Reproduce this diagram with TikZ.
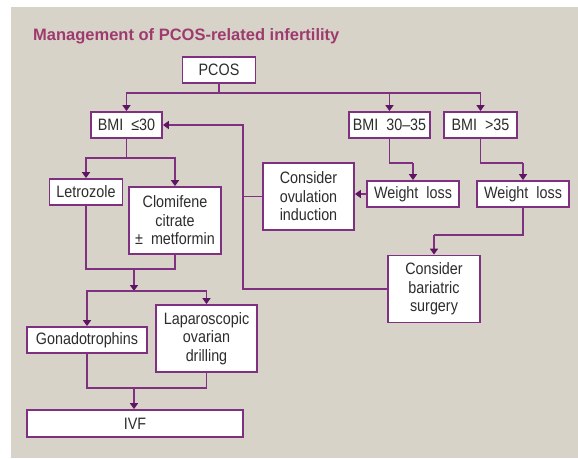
\documentclass[tikz,border=0pt]{standalone}
\usepackage{fontspec}
\setmainfont{Liberation Sans}
\newfontfamily\boxfont{Liberation Sans}[FakeStretch=0.87]
\usetikzlibrary{arrows.meta}
\definecolor{bg}{RGB}{215,211,201}
\definecolor{pl}{RGB}{128,48,128}
\definecolor{ah}{RGB}{95,20,100}
\definecolor{tt}{RGB}{158,58,110}
\definecolor{tx}{RGB}{45,45,45}
\begin{document}
\begin{tikzpicture}[x=1pt,y=-1pt,
 box/.style={draw=pl, line width=1.8pt, fill=white, inner sep=0pt, align=center,
   font=\boxfont\fontsize{16.5}{18.5}\selectfont, text=tx},
 ln/.style={draw=pl, line width=1.8pt},
 arr/.style={ln, -{Triangle[width=8pt,length=6pt,color=ah]}}]
\useasboundingbox (0,0) rectangle (578,458);
\fill[white] (0,0) rectangle (578,458);
\fill[bg] (11,7) rectangle (578,458);

\node[anchor=base west, inner sep=0pt, text=tt,
  font=\bfseries\fontsize{16.5}{18}\selectfont] (title) at (33,40)
  {Management of PCOS-related infertility};

\node[box, minimum width=73, minimum height=26] (pcos) at (219,70) {PCOS};
\node[box, minimum width=71, minimum height=26] (bmi1) at (126.5,125) {BMI\ \ ≤30};
\node[box, minimum width=81, minimum height=26] (bmi2) at (389.5,125) {BMI\ \ 30–35};
\node[box, minimum width=73, minimum height=26] (bmi3) at (480.5,125) {BMI\ \ >35};
\node[box, minimum width=73, minimum height=26] (letro) at (86,192) {Letrozole};
\node[box, minimum width=92, minimum height=67] (clomi) at (175,220.5) {Clomifene\\citrate\\±\ \ metformin};
\node[box, minimum width=91, minimum height=67] (ovul) at (308.5,196.5) {Consider\\ovulation\\induction};
\node[box, minimum width=92, minimum height=26] (wl1) at (413,194) {Weight\ \ loss};
\node[box, minimum width=92, minimum height=26] (wl2) at (523,194) {Weight\ \ loss};
\node[box, minimum width=92, minimum height=67] (bari) at (434,289) {Consider\\bariatric\\surgery};
\node[box, minimum width=120, minimum height=26] (gonado) at (87,340) {Gonadotrophins};
\node[box, minimum width=101, minimum height=67] (lap) at (206.5,338.5) {Laparoscopic\\ovarian\\drilling};
\node[box, minimum width=216, minimum height=27] (ivf) at (135,423.5) {IVF};

% PCOS branches
\coordinate (j1) at (219,93);
\draw[ln] (pcos.south) -- (j1);
\draw[arr] (j1) -| (bmi1.north);
\draw[arr] (j1) -| (bmi2.north);
\draw[arr] (j1) -| (bmi3.north);

% BMI <=30 branch
\coordinate (j2) at (126.5,158);
\draw[ln] (bmi1.south) -- (j2);
\draw[arr] (j2) -| (letro.north);
\draw[arr] (j2) -| (clomi.north);

\coordinate (j3) at (134,269);
\draw[ln] (letro.south) |- (j3);
\draw[ln] (clomi.south) |- (j3);
\coordinate (j4) at (134,291);
\draw[arr] (j3) -- (j4);
\draw[ln] (gonado.north |- j4) -- (lap.north |- j4);
\draw[arr] (j4) -| (gonado.north);
\draw[arr] (j4) -| (lap.north);

\coordinate (j5) at (134,388);
\draw[ln] (gonado.south) |- (j5);
\draw[ln] (lap.south) |- (j5);
\draw[arr] (j5) -- (j5 |- ivf.north);

% right side
\coordinate (v1) at (243,289);
\draw[arr] (bari.west) -- (v1) |- (bmi1.east);
\draw[ln] (ovul.west) -- (ovul.west -| v1);

\coordinate (j7) at (413,163);
\draw[ln] (bmi2.south) |- (j7);
\draw[arr] (j7) -- (wl1.north);
\coordinate (j8) at (523,163);
\draw[ln] (bmi3.south) |- (j8);
\draw[arr] (j8) -- (wl2.north);
\draw[arr] (wl1.west) -- (wl1.west -| ovul.east);
\coordinate (j9) at (434,235);
\draw[ln] (wl2.south) |- (j9);
\draw[arr] (j9) -- (bari.north);
\end{tikzpicture}
\end{document}
